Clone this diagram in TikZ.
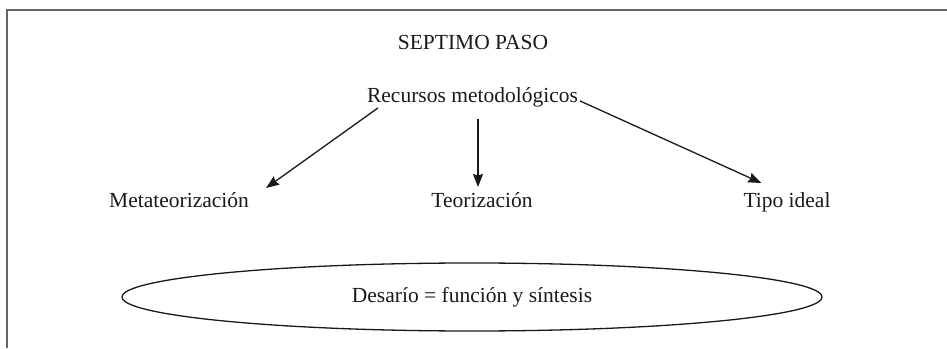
\documentclass[tikz,border=0pt]{standalone}
\usepackage{fontspec}
\setmainfont{Liberation Serif}
\usetikzlibrary{arrows.meta,shapes.geometric}
\begin{document}
\begin{tikzpicture}[x=1pt,y=1pt,
  lbl/.style={inner sep=0pt, anchor=base, font=\fontsize{21.5}{24}\selectfont, text=black!90},
  arr/.style={draw=black!90, line width=1.3pt, -{Stealth[length=13pt,width=10pt,inset=1.5pt]}},
  frame/.style={draw=black!60, line width=2.2pt},
  oval/.style={ellipse, draw=black!90, line width=1.3pt, minimum width=700pt, minimum height=68pt, inner sep=0pt, font=\fontsize{21.5}{24}\selectfont, text=black!90}]
\useasboundingbox (0,0) rectangle (947,348);
\path[frame] (947,338) -- (7,338) -- (7,0);
\node[lbl] (title) at (473,298) {SEPTIMO PASO};
\node[lbl] (rec) at (472.5,245) {Recursos metodológicos};
\node[lbl] (meta) at (179,140) {Metateorización};
\node[lbl] (teo) at (482,140) {Teorización};
\node[lbl] (tipo) at (787,140) {Tipo ideal};
\node[oval] (des) at (472,51) {Desarío = función y síntesis};
\draw[arr] ([shift={(11,-5)}]rec.base west) -- ([shift={(17,20)}]meta.base east);
\draw[arr] ([shift={(5.5,-16)}]rec.base) -- ([shift={(5.5,21)}]rec.base |- teo.base);
\draw[arr] ([shift={(2,2)}]rec.base east) -- ([shift={(18,25)}]tipo.base west);
\end{tikzpicture}
\end{document}
